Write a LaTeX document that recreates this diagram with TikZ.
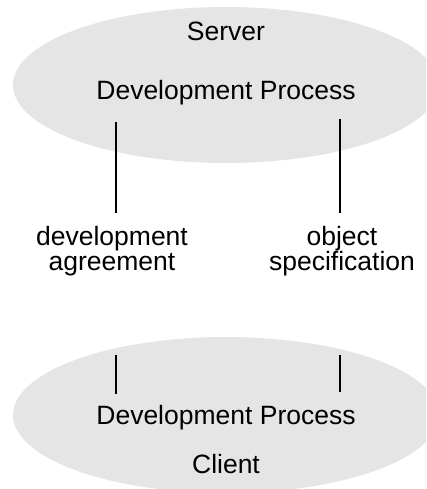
\documentclass[tikz,border=0pt]{standalone}
\usepackage{fontspec}
\setmainfont{Liberation Sans}
\definecolor{ellgray}{RGB}{229,229,229}
\begin{document}
\begin{tikzpicture}[x=1pt,y=-1pt,
  txt/.style={font=\fontsize{26.5}{25}\selectfont, inner sep=0pt, anchor=base, align=center},
  conn/.style={draw=black, line width=1.1pt}]
\useasboundingbox (0,0) rectangle (426,489);
\begin{scope}
  \clip (0,0) rectangle (426,489);
  \fill[ellgray] (226,85) ellipse [x radius=213pt, y radius=78pt];
  \fill[ellgray] (226,415) ellipse [x radius=213pt, y radius=78pt];
\end{scope}
\node[txt] (server) at (226,41) {Server};
\node[txt] (sdp) at (226,100) {Development Process};
\node[txt] (cdp) at (226,424) {Development Process};
\node[txt] (client) at (226,473) {Client};
\node[txt] (lab1) at (112,270) {development\\agreement};
\node[txt] (lab2) at (342,270) {object\\specification};
\coordinate (l1a) at (116,122);
\coordinate (l1b) at (116,213);
\coordinate (l1c) at (116,355);
\coordinate (l1d) at (116,394);
\coordinate (r1a) at (340,119);
\coordinate (r1b) at (340,213);
\coordinate (r1c) at (340,355);
\coordinate (r1d) at (340,392);
\draw[conn] (l1a) -- (l1b);
\draw[conn] (l1c) -- (l1d);
\draw[conn] (r1a) -- (r1b);
\draw[conn] (r1c) -- (r1d);
\end{tikzpicture}
\end{document}
